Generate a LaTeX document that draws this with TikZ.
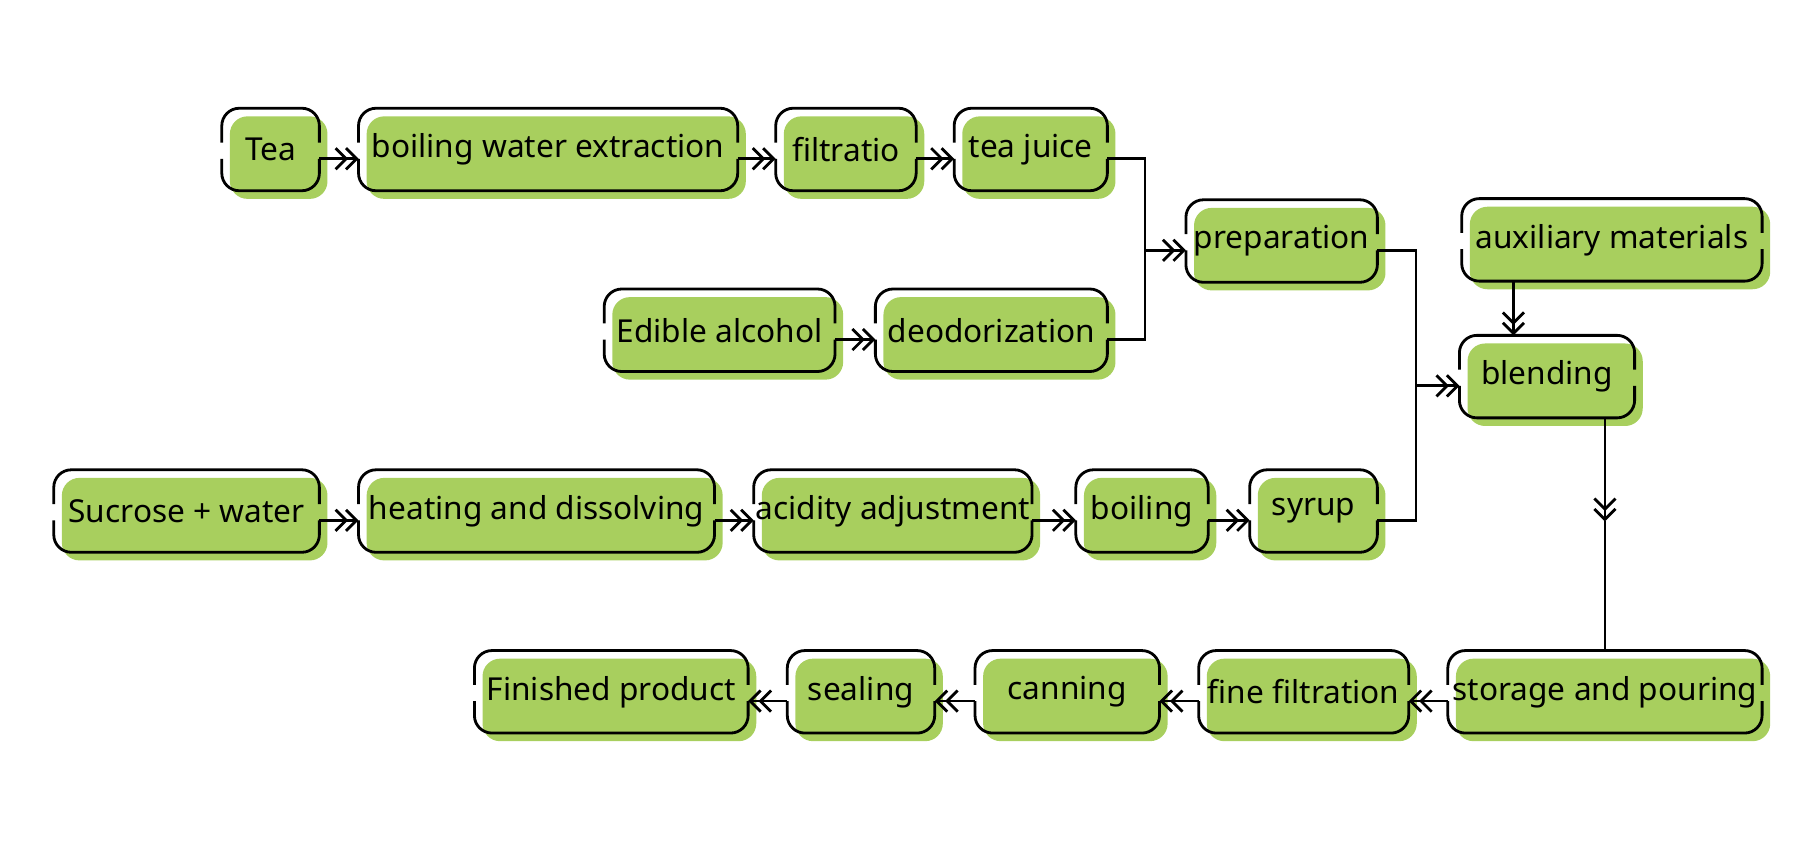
\documentclass[tikz,border=0pt]{standalone}
\usepackage{fontspec}
\setmainfont{Noto Sans}
\usetikzlibrary{arrows.meta, backgrounds}
\definecolor{boxgreen}{HTML}{A8CF5E}
\tikzset{>={Straight Barb[length=3pt,width=6pt]}}
\tikzset{
  stage/.style={minimum height=70*0.1159mm, inner sep=0pt, font=\fontsize{9}{11}\selectfont},
  flow/.style={thick, -{>[sep=-1pt]>}},
  link/.style={thick},
}
% green shadow and open frame of one stage
\newcommand{\framestage}[1]{%
  \begin{scope}[on background layer]
    \fill[boxgreen, rounded corners=5pt] ([shift={(7,7)}]#1.north west) rectangle ([shift={(7,7)}]#1.south east);
  \end{scope}
  \draw[link, rounded corners=5pt]
    ([shift={(0,-6)}]#1.east) |- (#1.north) -| ([shift={(0,-6)}]#1.west)
    ([shift={(0,8)}]#1.west) |- (#1.south) -| ([shift={(0,8)}]#1.east);
}
\begin{document}
\begin{tikzpicture}[x=0.1159mm, y=-0.1159mm]
  \useasboundingbox (0,0) rectangle (1568,727);

  % Stages
  \node[stage, minimum width=83*0.1159mm] (tea) at (233.5,129) {Tea};
  \node[stage, minimum width=326*0.1159mm] (boil) at (473,129) {boiling water extraction};
  \node[stage, minimum width=120*0.1159mm] (filt) at (730,129) {filtratio};
  \node[stage, minimum width=131*0.1159mm] (juice) at (889.5,129) {tea juice};
  \node[stage, minimum width=164*0.1159mm] (prep) at (1106,208) {preparation};
  \node[stage, minimum width=258*0.1159mm] (aux) at (1391,207) {auxiliary materials};
  \node[stage, minimum width=198*0.1159mm] (alc) at (621,285) {Edible alcohol};
  \node[stage, minimum width=199*0.1159mm] (deo) at (855.5,285) {deodorization};
  \node[stage, minimum width=150*0.1159mm] (blend) at (1335,325) {blending};
  \node[stage, minimum width=228*0.1159mm] (sucr) at (161,441) {Sucrose + water};
  \node[stage, minimum width=306*0.1159mm] (heat) at (463,441) {heating and dissolving};
  \node[stage, minimum width=239*0.1159mm] (acid) at (770.5,441) {acidity adjustment};
  \node[stage, minimum width=113*0.1159mm] (boilg) at (985.5,441) {boiling};
  \node[stage, minimum width=109*0.1159mm] (syrup) at (1133.5,441) {syrup};
  \node[stage, minimum width=270*0.1159mm] (store) at (1385,597) {storage and pouring};
  \node[stage, minimum width=180*0.1159mm] (fine) at (1125,597) {fine filtration};
  \node[stage, minimum width=158*0.1159mm] (can) at (921,597) {canning};
  \node[stage, minimum width=126*0.1159mm] (seal) at (743,597) {sealing};
  \node[stage, minimum width=235*0.1159mm] (prod) at (527.5,597) {Finished product};

  \foreach \n in {tea,boil,filt,juice,prep,aux,alc,deo,blend,sucr,heat,acid,boilg,syrup,store,fine,can,seal,prod}
    {\expandafter\framestage\expandafter{\n}}

  % Junctions
  \coordinate (j1) at (988,0);
  \coordinate (j2) at (1222,0);
  \coordinate (dn) at ([shift={(50,0)}]blend.south);
  \coordinate (mid) at (0,450);

  % Straight runs
  \foreach \a/\b in {tea/boil, boil/filt, filt/juice, alc/deo, sucr/heat, heat/acid, acid/boilg, boilg/syrup}
    {\draw[flow] ([shift={(0,8)}]\a.east) -- ([shift={(0,8)}]\b.west);}
  \foreach \a/\b in {store/fine, fine/can, can/seal, seal/prod}
    {\draw[flow] ([shift={(0,8)}]\a.west) -- ([shift={(0,8)}]\b.east);}

  % Merges
  \draw[link] ([shift={(0,8)}]juice.east) -| ([shift={(0,8)}]j1 |- deo.east) -- ([shift={(0,8)}]deo.east);
  \draw[flow] ([shift={(0,8)}]j1 |- prep.west) -- ([shift={(0,8)}]prep.west);
  \draw[link] ([shift={(0,8)}]prep.east) -| ([shift={(0,8)}]j2 |- syrup.east) -- ([shift={(0,8)}]syrup.east);
  \draw[flow] ([shift={(0,8)}]j2 |- blend.west) -- ([shift={(0,8)}]blend.west);
  \draw[flow] ([shift={(-85,0)}]aux.south) -- ([shift={(-85,0)}]aux.south |- blend.north);
  \draw[flow] (dn) -- (dn |- mid);
  \draw[link] (dn |- mid) -- (dn |- store.north);
\end{tikzpicture}
\end{document}
